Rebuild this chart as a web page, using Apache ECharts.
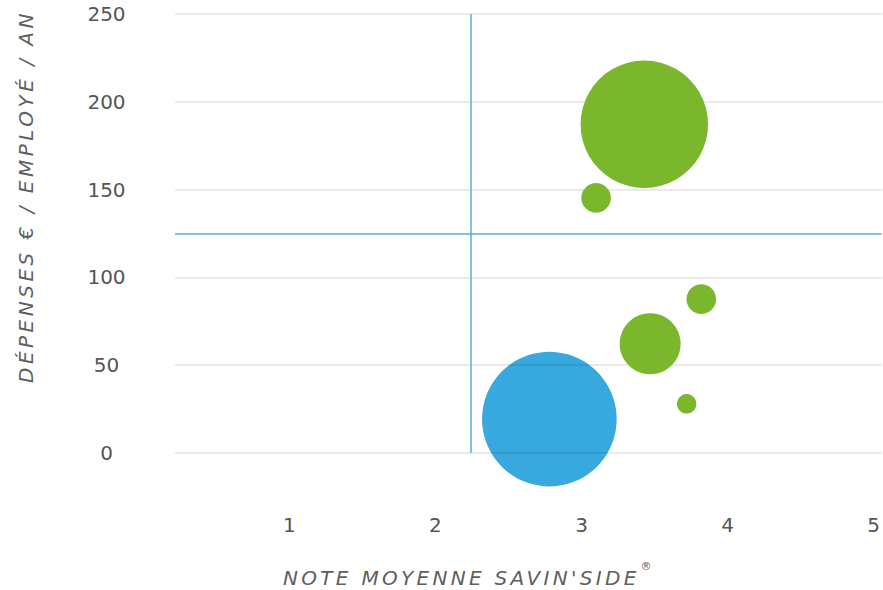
<!DOCTYPE html>
<html><head><meta charset="utf-8">
<script src="https://cdn.jsdelivr.net/npm/echarts@6/dist/echarts.min.js"></script>
<style>html,body{margin:0;padding:0;background:#fff}#c{width:883px;height:590px}</style>
</head><body><div id="c"></div>
<script>
// ---- data ----
const xTicks = [1, 2, 3, 4, 5];
const yTicks = [0, 50, 100, 150, 200, 250];
const blueX = [2.78];
const blueY = [19.3];
const blueSize = [45.3];
const greenX = [3.43, 3.10, 3.47, 3.82, 3.72];
const greenY = [187.2, 145.3, 62.2, 87.6, 28.0];
const greenSize = [40.6, 2.2, 9.3, 2.2, 0.95];
const refX = 2.243;
const refY = 125;
const xTitle = "NOTE MOYENNE SAVIN'SIDE";
const xTitleMark = "®";
const yTitle = "DÉPENSES € / EMPLOYÉ / AN";

const toPts = (xs, ys, ss) => xs.map((x, i) => [x, ys[i], ss[i]]);
const sizeFn = d => 20 * Math.sqrt(d[2]);
const FONT = '"DejaVu Sans", Verdana, sans-serif';

const chart = echarts.init(document.getElementById('c'), null, {renderer: 'svg'});
chart.setOption({
  animation: false,
  grid: {left: 175, right: 0, top: 14, bottom: 137},
  xAxis: {
    type: 'value', min: 0.217, max: 5.055,
    axisLine: {show: false}, axisTick: {show: false}, splitLine: {show: false},
    axisLabel: {customValues: xTicks, margin: 62, fontSize: 20, color: '#555', fontFamily: FONT}
  },
  yAxis: {
    type: 'value', min: yTicks[0], max: yTicks[yTicks.length - 1], interval: 50, z: 2,
    axisLine: {show: false}, axisTick: {show: false},
    splitLine: {lineStyle: {color: 'rgba(0,0,0,0.11)', width: 1.5}},
    axisLabel: {margin: 68.5, align: 'center', fontSize: 20, color: '#555', fontFamily: FONT}
  },
  series: [
    {
      type: 'scatter', z: 1, clip: false,
      data: toPts(blueX, blueY, blueSize), symbolSize: sizeFn,
      itemStyle: {color: '#38a9df', opacity: 1}
    },
    {
      type: 'scatter', z: 3, clip: false,
      data: toPts(greenX, greenY, greenSize), symbolSize: sizeFn,
      itemStyle: {color: '#7ab72c', opacity: 1},
      markLine: {
        silent: true, symbol: 'none', label: {show: false},
        lineStyle: {color: '#5aaddf', width: 1.5, type: 'solid'},
        data: [{xAxis: refX}, {yAxis: refY}]
      }
    }
  ],
  graphic: [
    {type: 'text', x: 26, y: 383, rotation: Math.PI / 2,
      style: {text: yTitle, font: 'italic 20px ' + FONT, fill: '#5f5f5f',
        textAlign: 'left', textVerticalAlign: 'middle', align: 'left', verticalAlign: 'middle'}},
    {type: 'text', x: 283, y: 577.5,
      style: {text: xTitle, font: 'italic 20px ' + FONT, fill: '#5f5f5f',
        textAlign: 'left', textVerticalAlign: 'middle', align: 'left', verticalAlign: 'middle'}},
    {type: 'text', x: 646, y: 566,
      style: {text: xTitleMark, font: '11px ' + FONT, fill: '#5f5f5f',
        textAlign: 'center', textVerticalAlign: 'middle', align: 'center', verticalAlign: 'middle'}}
  ]
});
function applySpacing() {
  document.querySelectorAll('#c text').forEach(t => {
    const s = t.textContent;
    if (s === xTitle) t.setAttribute('letter-spacing', '3.3');
    if (s === yTitle) t.setAttribute('letter-spacing', '3.5');
  });
}
applySpacing();
chart.on('finished', applySpacing);
</script></body></html>
